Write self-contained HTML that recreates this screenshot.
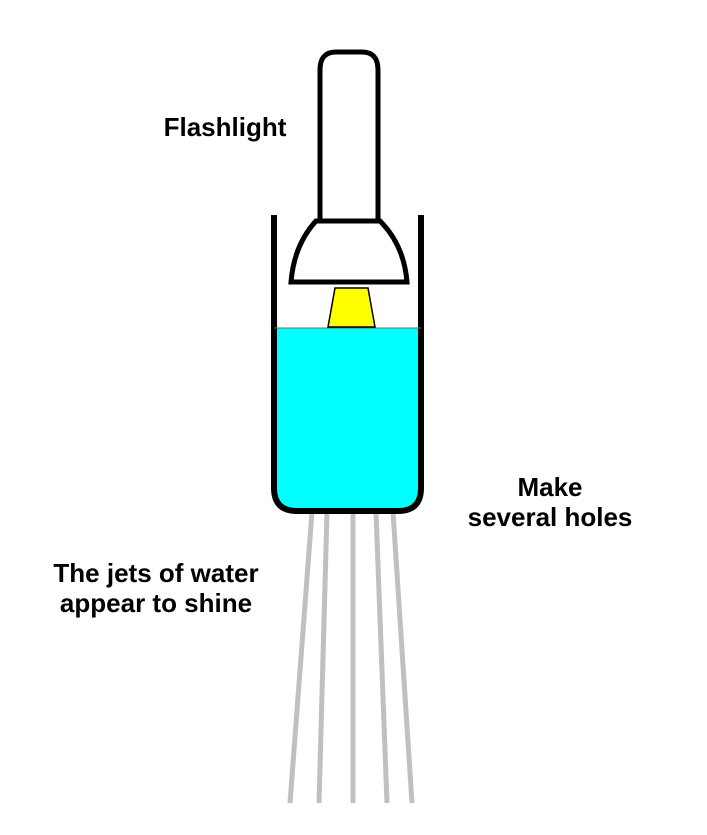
<!DOCTYPE html>
<html><head><style>
body{margin:0;background:#fff;width:707px;height:835px;overflow:hidden}
.t{position:absolute;font-family:"Liberation Sans",sans-serif;font-weight:bold;font-size:26px;color:#000;text-align:center;line-height:30px;white-space:nowrap}
</style></head><body>
<svg width="707" height="835" style="position:absolute;left:0;top:0">
<g stroke="#c0c0c0" stroke-width="5" fill="none">
<line x1="312" y1="512" x2="290" y2="803"/>
<line x1="327" y1="512" x2="319" y2="803"/>
<line x1="353" y1="512" x2="353" y2="803"/>
<line x1="376" y1="512" x2="387" y2="803"/>
<line x1="393" y1="512" x2="412" y2="803"/>
</g>
<path d="M274 328 H421 V488 Q421 511 398 511 H297 Q274 511 274 488 Z" fill="#00ffff"/>
<path d="M274 215 V488 Q274 511 297 511 H398 Q421 511 421 488 V215" fill="none" stroke="#000" stroke-width="6"/>
<line x1="274" y1="328" x2="421" y2="328" stroke="#806060" stroke-width="1"/>
<path d="M335 288 H368 L375 327 H328 Z" fill="#ffff00" stroke="#000" stroke-width="1.5"/>
<path d="M320 220 V70 Q320 52 336 52 H362 Q378 52 378 70 V220" fill="#fff" stroke="#000" stroke-width="5"/>
<path d="M316 221 H380 Q404 245 407 282 H291 Q294 245 316 221 Z" fill="#fff" stroke="#000" stroke-width="5"/>
</svg>
<div class="t" style="left:125px;top:112px;width:200px">Flashlight</div>
<div class="t" style="left:450px;top:472px;width:200px">Make<br>several holes</div>
<div class="t" style="left:26px;top:558px;width:260px">The jets of water<br>appear to shine</div>
</body></html>
